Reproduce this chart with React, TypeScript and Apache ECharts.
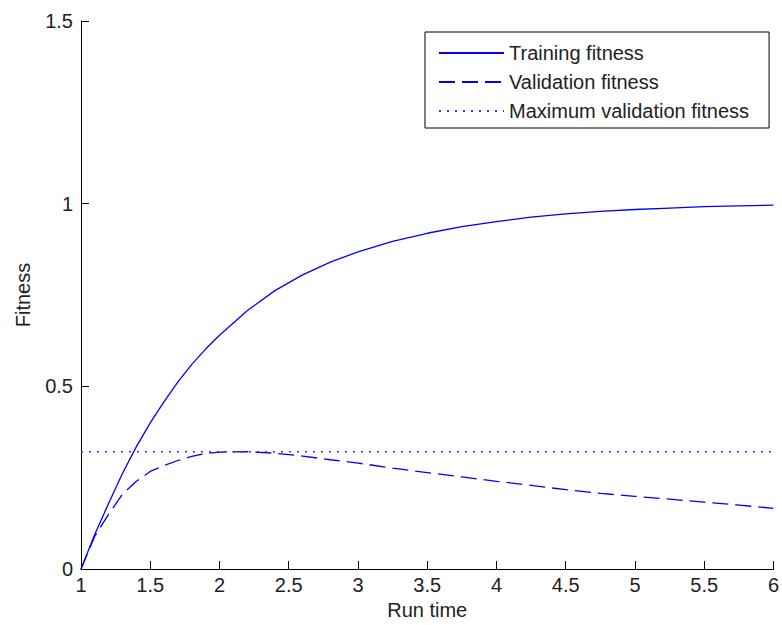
import React, { useEffect, useRef } from "react";
import * as echarts from "echarts";

const runTime = [1, 1.1, 1.2, 1.3, 1.4, 1.5, 1.6, 1.7, 1.8, 1.9, 2.0, 2.2, 2.4, 2.6, 2.8, 3.0, 3.25, 3.5, 3.75, 4.0, 4.25, 4.5, 4.75, 5.0, 5.25, 5.5, 5.75, 6.0];
const trainingFitness = [0, 0.095, 0.18, 0.262, 0.335, 0.4, 0.458, 0.512, 0.56, 0.602, 0.64, 0.707, 0.762, 0.805, 0.84, 0.868, 0.897, 0.919, 0.937, 0.951, 0.963, 0.972, 0.979, 0.984, 0.988, 0.992, 0.994, 0.996];
const validationFitness = [0, 0.09, 0.15, 0.205, 0.24, 0.267, 0.283, 0.297, 0.308, 0.316, 0.32, 0.321, 0.317, 0.309, 0.299, 0.29, 0.276, 0.264, 0.252, 0.24, 0.229, 0.217, 0.207, 0.199, 0.191, 0.183, 0.175, 0.166];
const maxValidation = 0.321;
const xRange = [1, 6];
const yRange = [0, 1.5];

const FONT = 'Arial, "Liberation Sans", sans-serif';
const BLUE = "#0000ff";
const INK = "#222222";

export default function App() {
  const ref = useRef<HTMLDivElement>(null);

  useEffect(() => {
    if (!ref.current) return;
    const chart = echarts.init(ref.current, undefined, { renderer: "svg" });
    const pairs = (ys: number[]) => runTime.map((x, i) => [x, ys[i]]);
    chart.setOption({
      animation: false,
      backgroundColor: "#ffffff",
      textStyle: { fontFamily: FONT },
      grid: { left: 81, right: 4, top: 21, bottom: 56, containLabel: false },
      legend: {
        orient: "vertical",
        left: 425,
        top: 32,
        padding: [11, 20, 7, 13],
        itemWidth: 65,
        itemHeight: 20,
        itemGap: 9,
        borderColor: "#000000",
        borderWidth: 1,
        backgroundColor: "#ffffff",
        itemStyle: { opacity: 0 },
        textStyle: { fontFamily: FONT, fontSize: 20, color: INK, lineHeight: 20 },
        data: ["Training fitness", "Validation fitness", "Maximum validation fitness"],
      },
      xAxis: {
        type: "value",
        min: xRange[0],
        max: xRange[1],
        interval: 0.5,
        name: "Run time",
        nameLocation: "middle",
        nameGap: 28,
        nameTextStyle: { fontFamily: FONT, fontSize: 20, color: INK },
        axisLine: { lineStyle: { color: "#000000", width: 1 } },
        axisTick: { inside: true, length: 8, lineStyle: { color: "#000000" } },
        axisLabel: { margin: 6, fontFamily: FONT, fontSize: 20, color: INK },
        splitLine: { show: false },
      },
      yAxis: {
        type: "value",
        min: yRange[0],
        max: yRange[1],
        interval: 0.5,
        name: "Fitness",
        nameLocation: "middle",
        nameGap: 48,
        nameRotate: 90,
        nameTextStyle: { fontFamily: FONT, fontSize: 20, color: INK },
        axisLine: { show: true, lineStyle: { color: "#000000", width: 1 } },
        axisTick: { show: true, inside: true, length: 8, lineStyle: { color: "#000000" } },
        axisLabel: { margin: 8, fontFamily: FONT, fontSize: 20, color: INK },
        splitLine: { show: false },
      },
      series: [
        {
          name: "Training fitness",
          type: "line",
          data: pairs(trainingFitness),
          symbol: "none",
          lineStyle: { color: BLUE, width: 1.3, type: "solid" },
          itemStyle: { color: BLUE },
        },
        {
          name: "Validation fitness",
          type: "line",
          data: pairs(validationFitness),
          symbol: "none",
          lineStyle: { color: BLUE, width: 1.3, type: [16, 7] },
          itemStyle: { color: BLUE },
        },
        {
          name: "Maximum validation fitness",
          type: "line",
          data: [[xRange[0], maxValidation], [xRange[1], maxValidation]],
          symbol: "none",
          lineStyle: { color: "#3333ff", width: 1.5, type: [2, 6] },
          itemStyle: { color: BLUE },
        },
      ],
    });
    return () => chart.dispose();
  }, []);

  return (
    <div
      ref={ref}
      style={{ position: "fixed", left: 0, top: 0, width: 782, height: 625, background: "#fff" }}
    />
  );
}
